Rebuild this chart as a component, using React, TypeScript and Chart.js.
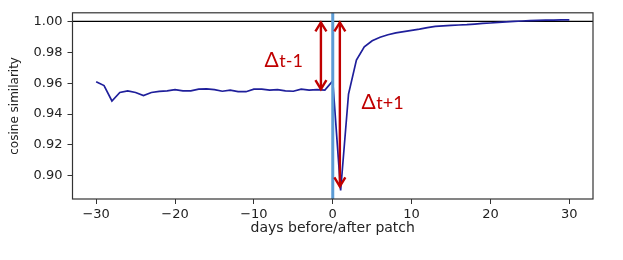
import React, { useEffect, useRef } from 'react';
import { Chart, registerables } from 'chart.js';

Chart.register(...registerables);

const days = [
  -30, -29, -28, -27, -26, -25, -24, -23, -22, -21, -20, -19, -18, -17, -16, -15,
  -14, -13, -12, -11, -10, -9, -8, -7, -6, -5, -4, -3, -2, -1, 0, 1, 2, 3, 4, 5,
  6, 7, 8, 9, 10, 11, 12, 13, 14, 15, 16, 17, 18, 19, 20, 21, 22, 23, 24, 25, 26,
  27, 28, 29, 30,
];

const similarity = [
  0.961, 0.9585, 0.9485, 0.954, 0.955, 0.954, 0.952, 0.954, 0.9547, 0.955,
  0.9558, 0.955, 0.955, 0.9562, 0.9563, 0.9558, 0.9548, 0.9555, 0.9545, 0.9545,
  0.9562, 0.9562, 0.9555, 0.9558, 0.955, 0.9548, 0.9562, 0.9555, 0.9558, 0.9555,
  0.9615, 0.8905, 0.953, 0.975, 0.9835, 0.9875, 0.9898, 0.9914, 0.9926, 0.9934,
  0.9942, 0.995, 0.996, 0.9968, 0.9971, 0.9974, 0.9977, 0.9979, 0.9983, 0.9987,
  0.999, 0.9994, 0.9997, 1.0, 1.0003, 1.0005, 1.0007, 1.0008, 1.0009, 1.001, 1.001,
];

const xTickValues = [-30, -20, -10, 0, 10, 20, 30];
const yTickValues = [0.9, 0.92, 0.94, 0.96, 0.98, 1.0];
const xLimits = [-33, 33];
const yLimits = [0.885, 1.0056];

const referenceLevel = 1.0;
const patchDay = 0;
const arrowBefore = { x: -1.5, from: 1.0, to: 0.9555 };
const arrowAfter = { x: 0.9, from: 1.0, to: 0.8925 };
const labelBefore = { x: -8.64, y: 0.9703, main: 'Δ', sub: 't-1' };
const labelAfter = { x: 3.66, y: 0.9435, main: 'Δ', sub: 't+1' };

const RED = '#c00000';
const TEXT = '#222222';

function drawDoubleArrow(ctx: CanvasRenderingContext2D, px: number, yTop: number, yBottom: number) {
  ctx.save();
  ctx.strokeStyle = RED;
  ctx.lineWidth = 2.4;
  ctx.lineCap = 'butt';
  ctx.lineJoin = 'miter';
  ctx.beginPath();
  ctx.moveTo(px, yTop + 1);
  ctx.lineTo(px, yBottom - 1);
  ctx.stroke();
  ctx.beginPath();
  ctx.moveTo(px - 5.5, yTop + 10);
  ctx.lineTo(px, yTop + 1);
  ctx.lineTo(px + 5.5, yTop + 10);
  ctx.stroke();
  ctx.beginPath();
  ctx.moveTo(px - 5.5, yBottom - 10);
  ctx.lineTo(px, yBottom - 1);
  ctx.lineTo(px + 5.5, yBottom - 10);
  ctx.stroke();
  ctx.restore();
}

function drawDelta(ctx: CanvasRenderingContext2D, px: number, py: number, main: string, sub: string) {
  ctx.save();
  ctx.fillStyle = RED;
  ctx.textBaseline = 'alphabetic';
  ctx.textAlign = 'left';
  ctx.font = '21px Lato, "Noto Sans", sans-serif';
  ctx.fillText(main, px, py);
  const w = ctx.measureText(main).width;
  ctx.font = '18px Lato, "Noto Sans", sans-serif';
  ctx.fillText(sub, px + w + 0.5, py);
  ctx.restore();
}

const overlayPlugin = {
  id: 'overlay',
  beforeDatasetsDraw(chart: any) {
    const { ctx, chartArea: a, scales } = chart;
    const yy = scales.y.getPixelForValue(referenceLevel);
    ctx.save();
    ctx.strokeStyle = '#000000';
    ctx.lineWidth = 1.2;
    ctx.beginPath();
    ctx.moveTo(a.left, yy);
    ctx.lineTo(a.right, yy);
    ctx.stroke();
    ctx.restore();
  },
  afterDatasetsDraw(chart: any) {
    const { ctx, chartArea: a, scales } = chart;
    const x = scales.x;
    const y = scales.y;

    // patch day marker
    const px0 = x.getPixelForValue(patchDay);
    ctx.save();
    ctx.strokeStyle = '#5b9bd5';
    ctx.lineWidth = 3;
    ctx.beginPath();
    ctx.moveTo(px0, a.top);
    ctx.lineTo(px0, a.bottom);
    ctx.stroke();
    ctx.restore();

    drawDoubleArrow(ctx, x.getPixelForValue(arrowBefore.x), y.getPixelForValue(arrowBefore.from), y.getPixelForValue(arrowBefore.to));
    drawDoubleArrow(ctx, x.getPixelForValue(arrowAfter.x), y.getPixelForValue(arrowAfter.from), y.getPixelForValue(arrowAfter.to));

    drawDelta(ctx, x.getPixelForValue(labelBefore.x), y.getPixelForValue(labelBefore.y), labelBefore.main, labelBefore.sub);
    drawDelta(ctx, x.getPixelForValue(labelAfter.x), y.getPixelForValue(labelAfter.y), labelAfter.main, labelAfter.sub);

    // frame
    ctx.save();
    ctx.strokeStyle = '#333333';
    ctx.lineWidth = 1.2;
    ctx.strokeRect(a.left, a.top, a.right - a.left, a.bottom - a.top);
    ctx.restore();
  },
};

export default function App() {
  const canvasRef = useRef<HTMLCanvasElement | null>(null);

  useEffect(() => {
    document.body.style.margin = '0';
    const canvas = canvasRef.current;
    if (!canvas) return;
    const points = days.map((d, i) => ({ x: d, y: similarity[i] }));
    const chart = new Chart(canvas, {
      type: 'line',
      data: {
        datasets: [
          {
            data: points,
            borderColor: '#1f1f9b',
            borderWidth: 1.7,
            pointRadius: 0,
            tension: 0,
            fill: false,
          },
        ],
      },
      options: {
        animation: false,
        responsive: false,
        maintainAspectRatio: false,
        devicePixelRatio: 1,
        layout: { padding: { left: 0, right: 30, top: 12, bottom: 0 } },
        plugins: {
          legend: { display: false },
          tooltip: { enabled: false },
        },
        scales: {
          x: {
            type: 'linear',
            min: xLimits[0],
            max: xLimits[1],
            afterFit: (s: any) => {
              s.height = 61;
            },
            afterBuildTicks: (s: any) => {
              s.ticks = xTickValues.map((v) => ({ value: v }));
            },
            border: { display: false },
            grid: {
              drawOnChartArea: false,
              drawTicks: true,
              tickLength: 5,
              tickColor: '#333333',
              tickWidth: 1,
            },
            ticks: {
              autoSkip: false,
              maxRotation: 0,
              padding: 3,
              color: TEXT,
              font: { family: '"DejaVu Sans"', size: 13 },
              callback: (v: any) => (v < 0 ? '\u2212' + Math.abs(v) : String(v)),
            },
            title: {
              display: true,
              text: 'days before/after patch',
              color: TEXT,
              font: { family: '"DejaVu Sans"', size: 14 },
              padding: { top: 0, bottom: 23 },
            },
          },
          y: {
            type: 'linear',
            min: yLimits[0],
            max: yLimits[1],
            afterFit: (s: any) => {
              s.width = 72.5;
            },
            afterBuildTicks: (s: any) => {
              s.ticks = yTickValues.map((v) => ({ value: v }));
            },
            border: { display: false },
            grid: {
              drawOnChartArea: false,
              drawTicks: true,
              tickLength: 5,
              tickColor: '#333333',
              tickWidth: 1,
            },
            ticks: {
              autoSkip: false,
              padding: 5,
              color: TEXT,
              font: { family: '"DejaVu Sans"', size: 13 },
              callback: (v: any) => Number(v).toFixed(2),
            },
            title: {
              display: true,
              text: 'cosine similarity',
              color: TEXT,
              font: { family: '"DejaVu Sans"', size: 12 },
              padding: { top: 8, bottom: 0 },
            },
          },
        },
      },
      plugins: [overlayPlugin],
    });
    return () => chart.destroy();
  }, []);

  return (
    <div style={{ position: 'absolute', left: 0, top: 0, width: 623, height: 260, background: '#fff' }}>
      <canvas ref={canvasRef} width={623} height={260} style={{ width: 623, height: 260, display: 'block' }} />
    </div>
  );
}
